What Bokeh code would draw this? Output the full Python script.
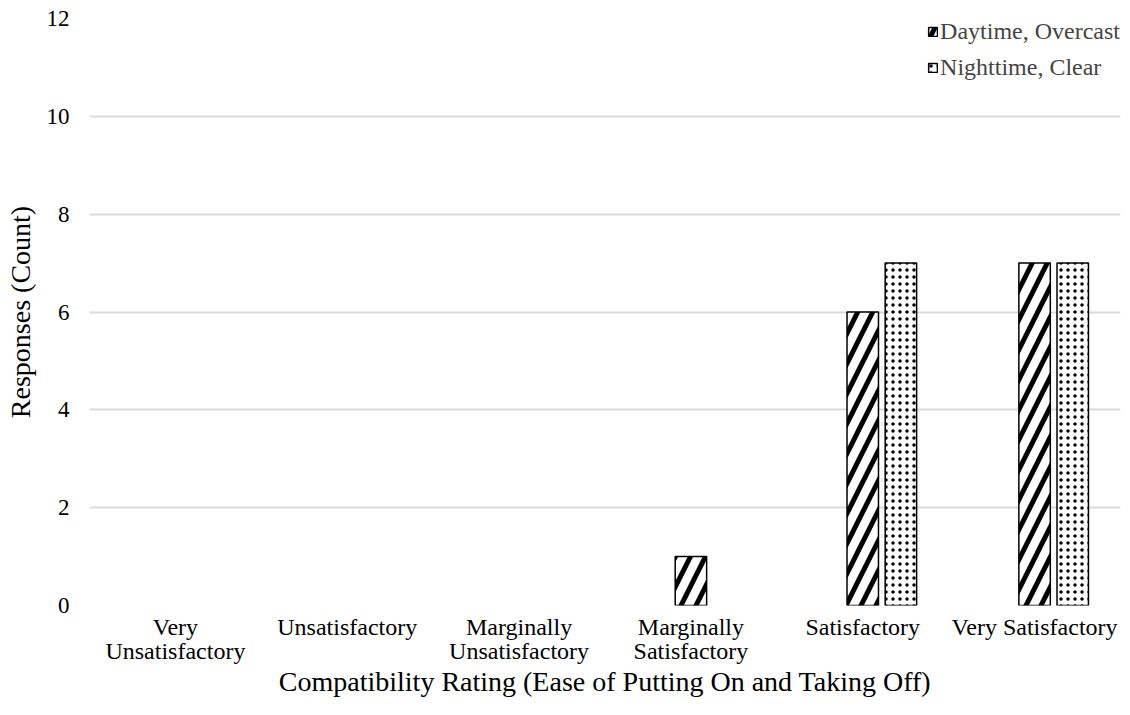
from bokeh.plotting import figure
from bokeh.models import (ColumnDataSource, Range1d, Legend, LegendItem,
                          LinearAxis, FixedTicker)
from bokeh.transform import dodge
from bokeh.embed import file_html
from bokeh.resources import INLINE

categories = ["Very Unsatisfactory", "Unsatisfactory", "Marginally Unsatisfactory",
              "Marginally Satisfactory", "Satisfactory", "Very Satisfactory"]
tick_labels = ["Very\nUnsatisfactory", "Unsatisfactory", "Marginally\nUnsatisfactory",
               "Marginally\nSatisfactory", "Satisfactory", "Very Satisfactory"]
daytime = [0, 0, 0, 1, 6, 7]
nighttime = [0, 0, 0, 0, 7, 7]
series_names = ["Daytime, Overcast", "Nighttime, Clear"]
y_ticks = [0, 2, 4, 6, 8, 10, 12]

FONT = "Liberation Serif"
positions = list(range(len(categories)))

def nonzero(vals):
    xs = [i for i, v in zip(positions, vals) if v > 0]
    vs = [v for v in vals if v > 0]
    return ColumnDataSource(dict(x=xs, val=vs))

src_day = nonzero(daytime)
src_night = nonzero(nighttime)

p = figure(x_range=Range1d(-0.5, len(categories) - 0.5), y_range=Range1d(0, 12),
           frame_width=1031, frame_height=587,
           min_border_left=89, min_border_right=1, min_border_top=18, min_border_bottom=60,
           output_backend="svg", toolbar_location=None)
p.outline_line_color = None
p.background_fill_color = "white"
p.border_fill_color = "white"

r1 = p.vbar(x=dodge("x", 0.0), top="val", width=0.183, source=src_day,
            fill_color="white", line_color="black", line_width=1.5,
            hatch_pattern="/", hatch_color="black", hatch_scale=30, hatch_weight=5)
r2 = p.vbar(x=dodge("x", 0.222), top="val", width=0.183, source=src_night,
            fill_color="white", line_color="black", line_width=1.5,
            hatch_pattern=".", hatch_color="black", hatch_scale=7, hatch_weight=1.5)

legend = Legend(items=[LegendItem(label=series_names[0], renderers=[r1]),
                       LegendItem(label=series_names[1], renderers=[r2])],
                location="top_right")
legend.background_fill_alpha = 0
legend.border_line_color = None
legend.label_text_font = FONT
legend.label_text_font_size = "24px"
legend.glyph_width = 11
legend.glyph_height = 11
legend.label_standoff = 2
legend.spacing = 9
legend.padding = 0
legend.margin = 0
p.add_layout(legend)

p.xgrid.grid_line_color = None
p.ygrid.grid_line_color = "#d9d9d9"
p.ygrid.grid_line_width = 2
p.yaxis.ticker = y_ticks

line1 = [t.split("\n")[0] for t in tick_labels]
line2 = [t.split("\n")[1] if "\n" in t else " " for t in tick_labels]

xa1 = p.xaxis[0]
xaxis2 = LinearAxis()
p.add_layout(xaxis2, "below")

for ax in (xa1, xaxis2, p.yaxis[0]):
    ax.axis_line_color = None
    ax.major_tick_line_color = None
    ax.minor_tick_line_color = None
    ax.major_label_text_font = FONT
    ax.axis_label_text_font = FONT
    ax.axis_label_text_font_style = "normal"
    ax.major_label_text_color = "black"
    ax.axis_label_text_color = "black"

p.yaxis.major_label_text_font_size = "23px"
p.yaxis.axis_label_text_font_size = "28px"
p.yaxis.major_label_standoff = 14
p.yaxis.axis_label = "Responses (Count)"
p.yaxis.axis_label_standoff = 8

xa1.ticker = FixedTicker(ticks=positions, minor_ticks=[])
xa1.major_label_text_font_size = "24px"
xa1.major_label_standoff = 2
xa1.major_label_overrides = {i: s for i, s in zip(positions, line1)}

xaxis2.ticker = FixedTicker(ticks=positions, minor_ticks=[])
xaxis2.major_label_text_font_size = "24px"
xaxis2.major_label_standoff = -11
xaxis2.major_label_overrides = {i: s for i, s in zip(positions, line2)}
xaxis2.axis_label = "Compatibility Rating (Ease of Putting On and Taking Off)"
xaxis2.axis_label_text_font_size = "28px"
xaxis2.axis_label_standoff = -1

open("out.html", "w").write(file_html(p, INLINE))
